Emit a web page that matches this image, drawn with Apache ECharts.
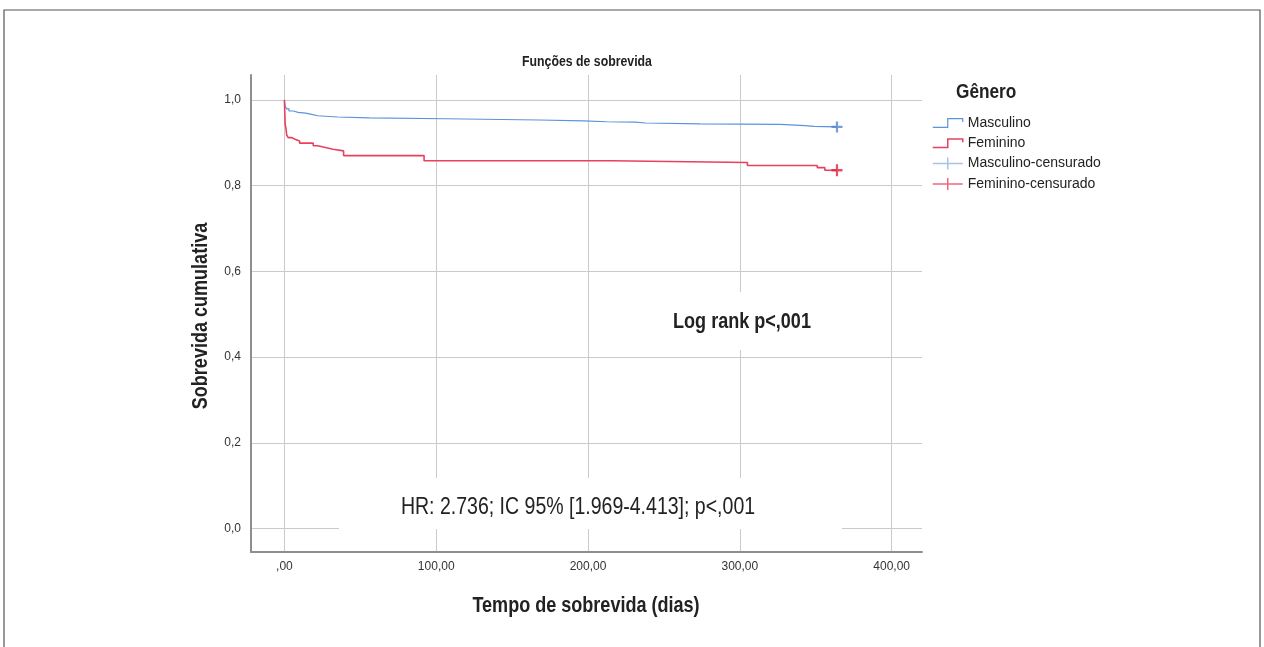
<!DOCTYPE html>
<html>
<head>
<meta charset="utf-8">
<script src="https://cdn.jsdelivr.net/npm/echarts@6/dist/echarts.min.js"></script>
<style>
html,body{margin:0;padding:0;background:#fff;}
#chart{width:1264px;height:647px;}
</style>
</head>
<body>
<div id="chart"></div>
<script>
// ---- data ----
const masculinoTimes  = [0, 0.5, 1.5, 3, 6, 9, 14, 18, 22, 35, 56, 106, 168, 197, 212, 231, 238, 274, 327, 343, 349, 364];
const masculinoSurv   = [1.0, 0.985, 0.979, 0.974, 0.971, 0.969, 0.966, 0.963, 0.960, 0.958, 0.956, 0.953, 0.951, 0.949, 0.948, 0.946, 0.944, 0.943, 0.940, 0.938, 0.937, 0.937];
const femininoTimes   = [0, 0.5, 1, 1.5, 2.5, 5, 7, 10, 19, 22, 27, 32, 39, 92, 215, 305, 351, 356, 364];
const femininoSurv    = [1.0, 0.943, 0.934, 0.918, 0.912, 0.908, 0.904, 0.899, 0.893, 0.889, 0.885, 0.881, 0.870, 0.858, 0.854, 0.847, 0.842, 0.836, 0.836];
const masculinoCensor = [[364, 0.937]];
const femininoCensor  = [[364, 0.836]];
const xTickValues = [0, 100, 200, 300, 400];
const xTickLabels = [',00', '100,00', '200,00', '300,00', '400,00'];
const yTickValues = [0, 0.2, 0.4, 0.6, 0.8, 1.0];
const yTickLabels = ['0,0', '0,2', '0,4', '0,6', '0,8', '1,0'];
const seriesNames = ['Masculino', 'Feminino', 'Masculino-censurado', 'Feminino-censurado'];

const F = "'Liberation Sans','Arial',sans-serif";
const NARROW = 0.82;
const BLUE = '#5b93dc', RED = '#e8415f', BLUE_C = '#4f86d0', RED_C = '#e3203f';
const STEP_ICON = 'path://M0,9L14,9L14,1L28,1L28,4';
const CENS_ICON = 'path://M0,6L30,6M15,0L15,12';
const PLUS = 'path://M4,0H6V4H10V6H6V10H4V6H0V4H4Z';

const zip = (a, b) => a.map((t, i) => [t, b[i]]);

function label(text, x, y, size, bold, extra) {
  return Object.assign({
    type: 'text', z: 60, x: x, y: y, scaleX: NARROW,
    style: {text: text, fontFamily: F, fontWeight: bold ? 'bold' : 'normal', fontSize: size, fill: '#222',
      textAlign: 'center', textVerticalAlign: 'middle'}
  }, extra || {});
}

const chart = echarts.init(document.getElementById('chart'), null, {renderer: 'canvas'});
chart.setOption({
  animation: false,
  backgroundColor: '#fff',
  grid: {left: 251, right: 342, top: 75, bottom: 95, containLabel: false},
  xAxis: {
    type: 'value', min: -22, max: 420,
    axisLine: {show: true, onZero: false, lineStyle: {color: '#8e8e8e', width: 2}},
    axisTick: {show: false, customValues: xTickValues},
    axisLabel: {customValues: xTickValues, fontFamily: F, fontSize: 12, color: '#333', margin: 9,
      formatter: v => xTickLabels[xTickValues.indexOf(v)]},
    splitLine: {show: true, lineStyle: {color: '#cacaca', width: 1}}
  },
  yAxis: {
    type: 'value', min: -0.0546, max: 1.058,
    axisLine: {show: true, onZero: false, lineStyle: {color: '#8e8e8e', width: 2}},
    axisTick: {show: false, customValues: yTickValues},
    axisLabel: {customValues: yTickValues, fontFamily: F, fontSize: 12, color: '#333', margin: 10,
      formatter: v => yTickLabels[yTickValues.findIndex(t => Math.abs(t - v) < 1e-6)]},
    splitLine: {show: true, lineStyle: {color: '#cacaca', width: 1}}
  },
  legend: {
    orient: 'vertical', left: 927, top: 110, itemWidth: 30, itemHeight: 12, itemGap: 4.3,
    textStyle: {fontFamily: F, fontSize: 14, color: '#222', lineHeight: 16},
    data: [
      {name: seriesNames[0], icon: STEP_ICON, itemStyle: {color: 'rgba(0,0,0,0)', borderColor: BLUE, borderWidth: 1.2}},
      {name: seriesNames[1], icon: STEP_ICON, itemStyle: {color: 'rgba(0,0,0,0)', borderColor: RED, borderWidth: 1.5}},
      {name: seriesNames[2], icon: CENS_ICON, itemStyle: {color: 'rgba(0,0,0,0)', borderColor: '#8fb4e6', borderWidth: 1.5}},
      {name: seriesNames[3], icon: CENS_ICON, itemStyle: {color: 'rgba(0,0,0,0)', borderColor: RED, borderWidth: 1.5}}
    ]
  },
  graphic: [
    {type: 'rect', z: 50, shape: {x: 4, y: 10, width: 1256, height: 700}, style: {fill: 'none', stroke: '#555', lineWidth: 1.2}},
    label('Funções de sobrevida', 587, 62, 15, true),
    label('Gênero', 956, 92, 21, true, {style: {text: 'Gênero', fontFamily: F, fontWeight: 'bold', fontSize: 21, fill: '#222', textAlign: 'left', textVerticalAlign: 'middle'}}),
    label('Sobrevida cumulativa', 201, 316, 22, true, {rotation: Math.PI / 2}),
    label('Tempo de sobrevida (dias)', 586, 606, 22, true),
    {type: 'rect', z: 55, shape: {x: 339, y: 478, width: 503, height: 51}, style: {fill: '#fff'}},
    label('HR: 2.736; IC 95% [1.969-4.413]; p<,001', 578, 507, 23.8, false),
    {type: 'rect', z: 55, shape: {x: 665, y: 292, width: 155, height: 58}, style: {fill: '#fff'}},
    label('Log rank p<,001', 742, 322, 22, true)
  ],
  series: [
    {name: seriesNames[0], type: 'line', step: 'end', showSymbol: false, data: zip(masculinoTimes, masculinoSurv),
      lineStyle: {color: BLUE, width: 1.2}, itemStyle: {color: BLUE}, z: 3},
    {name: seriesNames[1], type: 'line', step: 'end', showSymbol: false, data: zip(femininoTimes, femininoSurv),
      lineStyle: {color: RED, width: 1.6}, itemStyle: {color: RED}, z: 3},
    {name: seriesNames[2], type: 'scatter', symbol: PLUS, symbolSize: 11, data: masculinoCensor,
      itemStyle: {color: BLUE_C}, z: 4},
    {name: seriesNames[3], type: 'scatter', symbol: PLUS, symbolSize: [11, 12], data: femininoCensor,
      itemStyle: {color: RED_C}, z: 4}
  ]
});
</script>
</body>
</html>
